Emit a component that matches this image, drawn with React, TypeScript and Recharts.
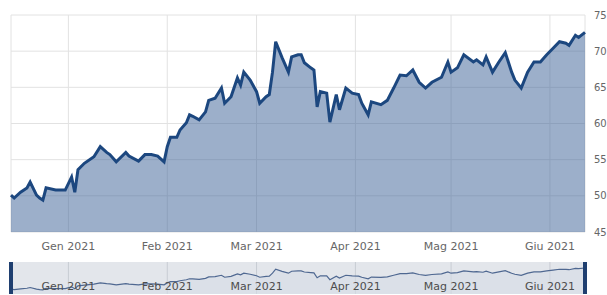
import { AreaChart, Area, XAxis, YAxis, CartesianGrid, ReferenceLine } from 'recharts'

// trading days
const dates = [
  '2020-12-14', '2020-12-15', '2020-12-17', '2020-12-19', '2020-12-20', '2020-12-22', '2020-12-23', '2020-12-24',
  '2020-12-25', '2020-12-28', '2020-12-31', '2021-01-02', '2021-01-03', '2021-01-04', '2021-01-06', '2021-01-09',
  '2021-01-11', '2021-01-13', '2021-01-14', '2021-01-16', '2021-01-19', '2021-01-20', '2021-01-23', '2021-01-25',
  '2021-01-27', '2021-01-29', '2021-01-31', '2021-02-01', '2021-02-02', '2021-02-04', '2021-02-05', '2021-02-07',
  '2021-02-08', '2021-02-09', '2021-02-11', '2021-02-13', '2021-02-14', '2021-02-16', '2021-02-18', '2021-02-19',
  '2021-02-21', '2021-02-23', '2021-02-24', '2021-02-25', '2021-02-27', '2021-03-01', '2021-03-02', '2021-03-04',
  '2021-03-05', '2021-03-06', '2021-03-07', '2021-03-09', '2021-03-11', '2021-03-12', '2021-03-14', '2021-03-15',
  '2021-03-16', '2021-03-18', '2021-03-19', '2021-03-20', '2021-03-21', '2021-03-23', '2021-03-24', '2021-03-26',
  '2021-03-27', '2021-03-29', '2021-03-31', '2021-04-02', '2021-04-03', '2021-04-05', '2021-04-06', '2021-04-09',
  '2021-04-11', '2021-04-13', '2021-04-15', '2021-04-17', '2021-04-19', '2021-04-21', '2021-04-23', '2021-04-25',
  '2021-04-28', '2021-04-30', '2021-05-01', '2021-05-03', '2021-05-05', '2021-05-08', '2021-05-09', '2021-05-11',
  '2021-05-12', '2021-05-14', '2021-05-16', '2021-05-18', '2021-05-20', '2021-05-21', '2021-05-23', '2021-05-25',
  '2021-05-27', '2021-05-29', '2021-05-31', '2021-06-02', '2021-06-04', '2021-06-06', '2021-06-07', '2021-06-09',
  '2021-06-10', '2021-06-12',
]

const prices = [
  50.1, 49.7, 50.5, 51.1, 51.9, 50.1, 49.7, 49.4,
  51.1, 50.8, 50.8, 52.6, 50.5, 53.6, 54.5, 55.4,
  56.8, 56.0, 55.7, 54.7, 56.0, 55.5, 54.8, 55.7,
  55.7, 55.5, 54.7, 56.8, 58.1, 58.1, 59.1, 60.1,
  61.2, 61.0, 60.5, 61.6, 63.2, 63.5, 64.9, 62.8,
  63.7, 66.3, 65.3, 67.1, 66.0, 64.4, 62.8, 63.7,
  64.0, 67.1, 71.3, 69.1, 67.1, 69.2, 69.5, 69.5,
  68.4, 67.7, 67.4, 62.3, 64.4, 64.2, 60.2, 64.0,
  61.9, 64.9, 64.2, 64.0, 62.8, 61.2, 63.0, 62.6,
  63.2, 64.9, 66.7, 66.6, 67.4, 65.7, 64.9, 65.7,
  66.4, 68.5, 67.1, 67.7, 69.5, 68.5, 68.8, 68.1,
  69.2, 67.1, 68.5, 69.8, 67.1, 66.0, 64.9, 67.1,
  68.5, 68.5, 69.5, 70.4, 71.3, 71.1, 70.8, 72.2,
  71.9, 72.6,
]

const monthTicks = ['2021-01-01', '2021-02-01', '2021-03-01', '2021-04-01', '2021-05-01', '2021-06-01']
const monthLabels = ['Gen 2021', 'Feb 2021', 'Mar 2021', 'Apr 2021', 'Mag 2021', 'Giu 2021']
const priceTicks = [45, 50, 55, 60, 65, 70, 75]
const rangeStart = '2020-12-14'
const rangeEnd = '2021-06-12'

const ts = (d: string) => Date.parse(d + 'T00:00:00Z')
const data = dates.map((d, i) => ({ t: ts(d), price: prices[i] }))
const tickTs = monthTicks.map(ts)
const domain = [ts(rangeStart), ts(rangeEnd)]

const FONT = 'DejaVu Sans'

function monthLabel(v: number) {
  const i = tickTs.indexOf(v)
  return i >= 0 ? monthLabels[i] : ''
}

function NavTick(props: { x?: number; y?: number; payload?: { value: number } }) {
  const { x, y, payload } = props
  if (x === undefined || y === undefined || !payload) return null
  return (
    <text x={x} y={y - 4} textAnchor="middle" fontSize={11} fill="#4d4d4d" fontFamily={FONT}>
      {monthLabel(payload.value)}
    </text>
  )
}

export default function App() {
  return (
    <div style={{ position: 'absolute', left: 0, top: 0, width: 607, height: 295, background: '#fff', overflow: 'hidden' }}>
      <AreaChart width={607} height={255} data={data} margin={{ top: 15, right: 0, bottom: 0, left: 11 }}>
        <CartesianGrid stroke="#e2e2e2" ticks={priceTicks} />
        <XAxis
          dataKey="t"
          type="number"
          scale="time"
          domain={domain}
          ticks={tickTs}
          interval={0}
          tickFormatter={monthLabel}
          height={23}
          axisLine={false}
          tickLine={false}
          tickSize={0}
          tickMargin={10}
          tick={{ fill: '#666', fontSize: 11, fontFamily: FONT }}
        />
        <YAxis
          orientation="right"
          domain={[45, 75]}
          ticks={priceTicks}
          interval={0}
          width={22}
          axisLine={false}
          tickLine={false}
          tickSize={0}
          tickMargin={9}
          tick={{ fill: '#666', fontSize: 10, fontFamily: FONT, textAnchor: 'start' }}
        />
        <Area
          type="linear"
          dataKey="price"
          stroke="#1c477f"
          strokeWidth={3}
          fill="#3a5f95"
          fillOpacity={0.5}
          isAnimationActive={false}
        />
      </AreaChart>
      <AreaChart width={607} height={40} data={data} margin={{ top: 7, right: 22, bottom: 0, left: 11 }}>
        <CartesianGrid horizontal={false} stroke="#c8ccd3" fill="#e3e6eb" />
        <XAxis
          dataKey="t"
          type="number"
          scale="time"
          domain={domain}
          ticks={tickTs}
          interval={0}
          height={1}
          axisLine={false}
          tickLine={false}
          tickSize={0}
          tickMargin={0}
          tick={<NavTick />}
        />
        <YAxis hide domain={[45, 79]} />
        <Area
          type="linear"
          dataKey="price"
          stroke="#4f6891"
          strokeWidth={1.2}
          fill="#d6dce6"
          fillOpacity={0.6}
          isAnimationActive={false}
        />
        <ReferenceLine x={domain[0]} stroke="#1f3f70" strokeWidth={4} />
        <ReferenceLine x={domain[1]} stroke="#1f3f70" strokeWidth={4} />
      </AreaChart>
    </div>
  )
}
